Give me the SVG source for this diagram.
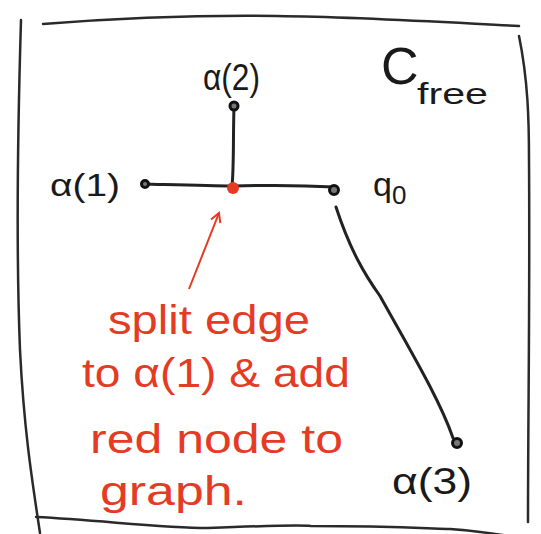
<svg xmlns="http://www.w3.org/2000/svg" width="541" height="534" viewBox="0 0 541 534">
<style>
.frame{fill:none;stroke:#2a2a2a;stroke-width:2.5;stroke-linecap:round}
.edge{fill:none;stroke:#222;stroke-width:3;stroke-linecap:round}
.node{fill:#777;stroke:#111;stroke-width:3}
.lbl{font-family:"Liberation Sans","DejaVu Sans",sans-serif;fill:#1a1a1a}
.red{font-family:"Liberation Sans","DejaVu Sans",sans-serif;fill:#e53b25;font-size:40px}
</style>
<defs>
<marker id="ah" viewBox="0 0 12 12" refX="10" refY="6" markerWidth="12" markerHeight="12" markerUnits="userSpaceOnUse" orient="auto">
<path d="M1,1 L10,6 L1,11" fill="none" stroke="#e53b25" stroke-width="2"/>
</marker>
</defs>
<rect width="541" height="534" fill="#fff"/>
<g id="frame">
<path class="frame" d="M43,24 C120,18 200,15 277,16 C360,17 440,22 519,26"/>
<path class="frame" d="M21,20 C18,120 16,250 20,350 C24,430 32,480 40,533"/>
<path class="frame" d="M519,36 C528,80 529,120 529,160 C530,300 528,420 528,522"/>
<path class="frame" d="M36,517 C100,520 160,528 208,528 C260,526 300,525 311,526 C380,526 420,528 450,529 C490,532 515,537 533,540"/>
</g>
<g id="connectors">
<path class="edge" d="M234,106 C233,140 234,165 232,187"/>
<path class="edge" d="M143,184 C180,185 210,186 233,186 C270,185 300,185 334,187"/>
<path class="edge" d="M336,207 C350,250 365,275 380,296 C410,350 440,400 453,438"/>
<path d="M189,289 L219,213" fill="none" stroke="#e53b25" stroke-width="2" marker-end="url(#ah)"/>
</g>
<g id="n-alpha1">
<circle class="node" cx="145" cy="184" r="3.5" fill="#111"/>
<text class="lbl" x="50" y="196" font-size="32" textLength="70" lengthAdjust="spacingAndGlyphs">α(1)</text>
</g>
<g id="n-alpha2">
<circle class="node" cx="234" cy="106" r="4"/>
<text class="lbl" x="203" y="90" font-size="36" textLength="57" lengthAdjust="spacingAndGlyphs">α(2)</text>
</g>
<g id="n-red">
<circle cx="233" cy="188" r="6" fill="#e53b25"/>
</g>
<g id="n-q0">
<circle class="node" cx="334" cy="190" r="4.5"/>
<text class="lbl" x="373" y="196" font-size="34">q<tspan font-size="26" dy="8">0</tspan></text>
</g>
<g id="n-alpha3">
<circle class="node" cx="457" cy="443" r="4.5"/>
<text class="lbl" x="392" y="494" font-size="36" textLength="80" lengthAdjust="spacingAndGlyphs">α(3)</text>
</g>
<g id="cfree">
<text class="lbl" x="381" y="84" font-size="52">C</text>
<text class="lbl" x="417" y="104" font-size="30" textLength="71" lengthAdjust="spacingAndGlyphs">free</text>
</g>
<g id="note">
<text class="red" x="108" y="334" textLength="202" lengthAdjust="spacingAndGlyphs">split edge</text>
<text class="red" x="82" y="387" textLength="268" lengthAdjust="spacingAndGlyphs">to α(1) &amp; add</text>
<text class="red" x="90" y="453" textLength="253" lengthAdjust="spacingAndGlyphs">red node to</text>
<text class="red" x="100" y="505" textLength="147" lengthAdjust="spacingAndGlyphs">graph.</text>
</g>
</svg>
